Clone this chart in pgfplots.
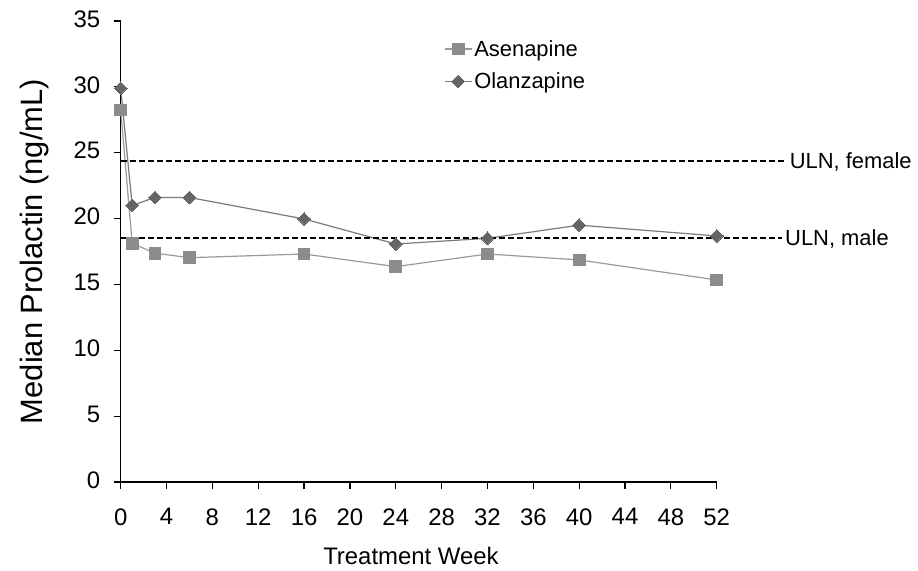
\documentclass[border=0pt]{standalone}
\usepackage{fontspec}
\setmainfont{Liberation Sans}
\usepackage{pgfplots}
\pgfplotsset{compat=1.18}
\definecolor{asecol}{HTML}{8C8C8C}
\definecolor{aseline}{HTML}{9A9A9A}
\definecolor{olacol}{HTML}{656565}
\definecolor{olaline}{HTML}{7A7A7A}
\begin{document}
\begin{tikzpicture}
\path (-120.7bp,-89bp) rectangle (797.3bp,482bp);
\begin{axis}[
 scale only axis, width=596bp, height=461bp,
 xmin=0,xmax=52,ymin=0,ymax=35,
 axis lines=left, axis line style={-, line width=1.2bp, black},
 xtick={0,4,...,52}, ytick={0,5,...,35},
 tick align=outside, major tick length=7bp, tick style={line width=1.2bp, black},
 /pgf/number format/assume math mode=true,
 ticklabel style={font=\fontsize{24}{28}\selectfont},
 yticklabel style={xshift=-10bp, yshift=2bp},
 xticklabel style={yshift=-16bp},
 xlabel={Treatment Week}, ylabel={Median Prolactin (ng/mL)},
 xlabel style={font=\fontsize{24}{28}\selectfont, at={(axis description cs:0.487,-0.1605)}, anchor=center, inner sep=0pt},
 ylabel style={font=\fontsize{31}{36}\selectfont, at={(axis description cs:-0.1438,0.5)}, anchor=center, inner sep=0pt},
 clip=false,
 legend style={draw=none, fill=none, at={(axis cs:28.2,33.7)}, anchor=north west, inner sep=0pt, row sep=11bp, font=\fontsize{22}{26}\selectfont},
 legend cell align=left,
 legend image code/.code={\draw[mark repeat=2,mark phase=2] plot coordinates {(0bp,0bp) (13.5bp,0bp) (27bp,0bp)};},
]
\addplot[aseline, line width=1.2bp, mark=square*, mark size=5.9bp, mark options={fill=asecol, draw=asecol, line width=0bp}]
 coordinates {(0,28.25) (1,18.12) (3,17.37) (6,17.03) (16,17.31) (24,16.35) (32,17.31) (40,16.86) (52,15.34)};
\addlegendentry{Asenapine}
\addplot[olaline, line width=1.2bp, mark=square*, mark size=4.5bp, mark options={rotate=45, fill=olacol, draw=olacol, line width=0bp}]
 coordinates {(0,29.9) (1,21.0) (3,21.6) (6,21.6) (16,19.97) (24,18.07) (32,18.5) (40,19.5) (52,18.68)};
\addlegendentry{Olanzapine}
\addplot[black, line width=2bp, dash pattern=on 6bp off 3bp, forget plot] coordinates {(0,24.37) (58.1,24.37)};
\addplot[black, line width=2bp, dash pattern=on 6bp off 3bp, forget plot] coordinates {(0,18.55) (57.7,18.55)};
\node[anchor=base west, inner sep=3bp, yshift=-7.9bp, font=\fontsize{22}{26}\selectfont] at (axis cs:58.1,24.37) {ULN, female};
\node[anchor=base west, inner sep=3bp, yshift=-7.9bp, font=\fontsize{22}{26}\selectfont] at (axis cs:57.7,18.55) {ULN, male};
\end{axis}
\end{tikzpicture}
\end{document}
